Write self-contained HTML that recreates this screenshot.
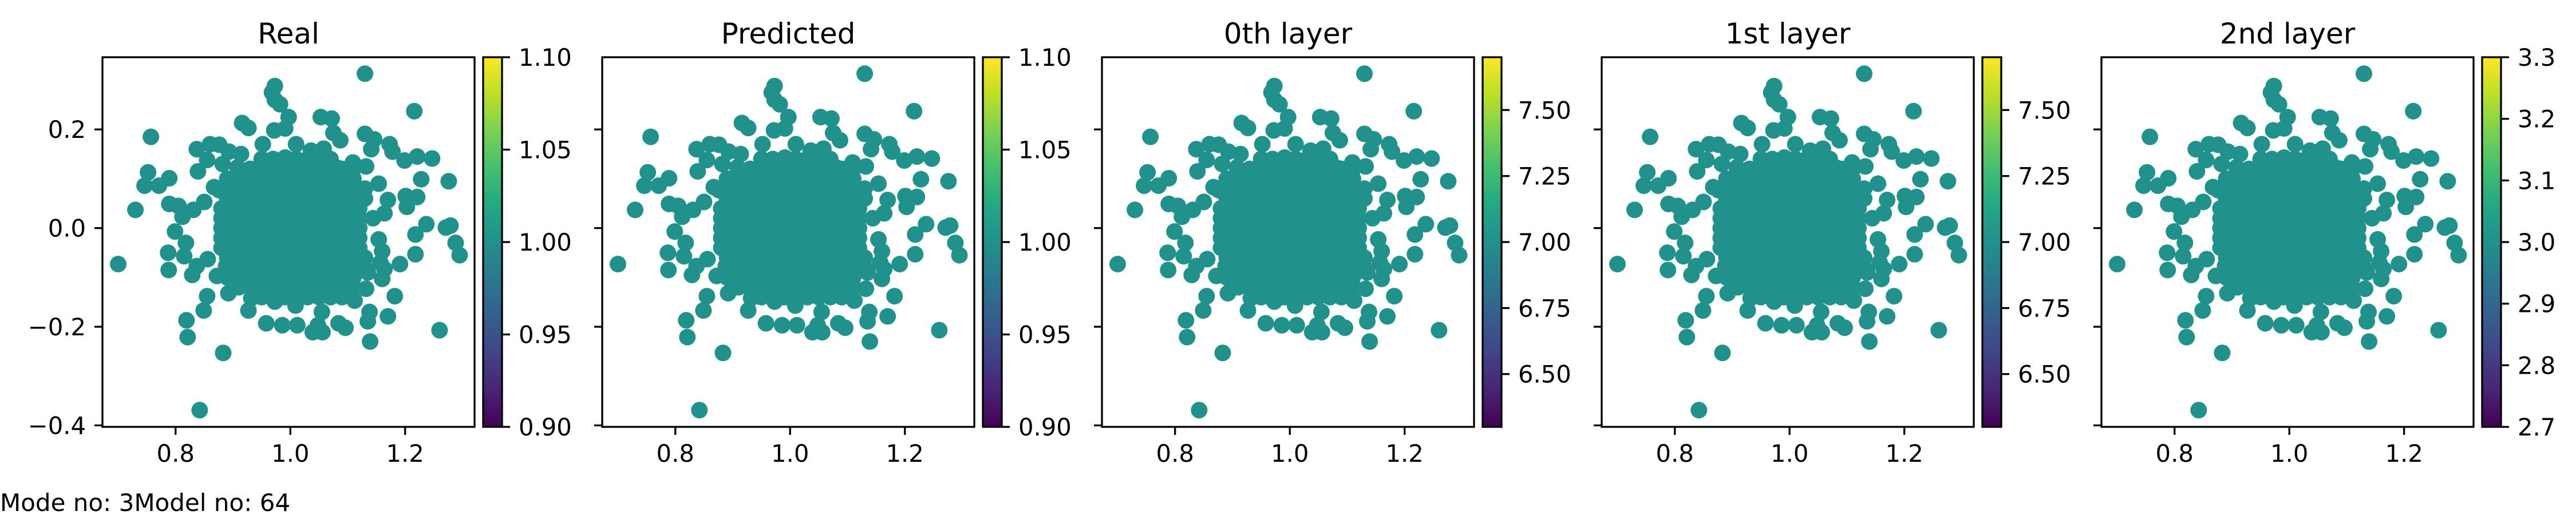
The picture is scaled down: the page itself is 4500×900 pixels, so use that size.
<!DOCTYPE html>
<html><head><meta charset="utf-8">
<style>
html,body{margin:0;padding:0;background:#fff;}
svg{display:block;font-family:"DejaVu Sans","Liberation Sans",sans-serif;}
</style></head>
<body>
<svg id="fig" width="4500" height="900" viewBox="0 0 4500 900" xmlns="http://www.w3.org/2000/svg">
<defs>
<linearGradient id="viridis" x1="0" y1="1" x2="0" y2="0">
<stop offset="0" stop-color="#440154"/><stop offset="0.1" stop-color="#482475"/>
<stop offset="0.2" stop-color="#414487"/><stop offset="0.3" stop-color="#355f8d"/>
<stop offset="0.4" stop-color="#2a788e"/><stop offset="0.5" stop-color="#21918c"/>
<stop offset="0.6" stop-color="#22a884"/><stop offset="0.7" stop-color="#44bf70"/>
<stop offset="0.8" stop-color="#7ad151"/><stop offset="0.9" stop-color="#bddf26"/>
<stop offset="1" stop-color="#fde725"/>
</linearGradient>
</defs>
<text x="0" y="893" font-size="42">Mode no: 3Model no: 64</text>
</svg>
<script>
const panelTitles = ["Real","Predicted","0th layer","1st layer","2nd layer"];
const cbarMin = [0.9,0.9,6.3,6.3,2.7];
const cbarMax = [1.1,1.1,7.7,7.7,3.3];
const cbarTicks = [[0.9,0.95,1.0,1.05,1.1],[0.9,0.95,1.0,1.05,1.1],[6.5,6.75,7.0,7.25,7.5],[6.5,6.75,7.0,7.25,7.5],[2.7,2.8,2.9,3.0,3.1,3.2,3.3]];
const cbarTickLabels = [["0.90","0.95","1.00","1.05","1.10"],["0.90","0.95","1.00","1.05","1.10"],["6.50","6.75","7.00","7.25","7.50"],["6.50","6.75","7.00","7.25","7.50"],["2.7","2.8","2.9","3.0","3.1","3.2","3.3"]];
const xTicks = [0.8,1.0,1.2];
const xTickLabels = ["0.8","1.0","1.2"];
const yTicks = [0.2,0.0,-0.2,-0.4];
const yTickLabels = ["0.2","0.0","\u22120.2","\u22120.4"];
const outerX = [1.130,0.973,0.968,0.973,0.982,0.997,1.216,1.053,1.072,0.916,0.927,0.972,0.991,1.075,1.087,1.130,1.146,0.757,0.837,0.860,0.876,0.893,0.855,0.882,0.839,0.752,0.746,0.771,0.789,0.730,0.789,0.805,0.867,0.700,0.787,0.788,0.829,0.872,0.855,0.849,0.819,0.821,0.883,0.842,0.927,0.932,0.892,0.973,0.958,0.986,1.012,1.039,1.056,1.096,1.084,1.138,1.135,1.139,1.170,1.182,1.112,1.191,1.218,1.218,1.237,1.271,1.279,1.288,1.295,1.260,1.203,1.201,1.221,1.228,1.276,1.199,1.221,1.247,1.173,1.178,1.141,1.109,1.132,1.154,1.170,1.164,1.144,1.154,1.160,1.160,1.164,1.157,1.009,1.030,1.055,1.087,1.048,1.132,1.135,1.119,0.952,0.991,0.914,0.908,0.876,0.850,0.831,0.812,0.799,0.818,0.815,0.837,0.856,0.888,0.908,0.940,0.965,1.010,1.036,1.058,1.080,1.106];
const outerY = [0.313,0.288,0.275,0.260,0.251,0.225,0.237,0.225,0.222,0.213,0.203,0.198,0.202,0.193,0.178,0.191,0.180,0.185,0.160,0.170,0.169,0.155,0.138,0.130,0.115,0.113,0.086,0.086,0.101,0.037,0.049,0.045,0.083,-0.073,-0.050,-0.085,-0.095,-0.097,-0.138,-0.167,-0.187,-0.221,-0.253,-0.369,-0.167,-0.142,-0.132,-0.149,-0.193,-0.197,-0.197,-0.211,-0.211,-0.202,-0.193,-0.170,-0.189,-0.230,-0.179,-0.138,-0.147,-0.073,-0.053,-0.013,0.008,0.001,0.005,-0.030,-0.055,-0.207,0.043,0.065,0.063,0.099,0.095,0.137,0.145,0.141,0.170,0.155,0.160,0.133,0.125,0.090,0.057,0.030,0.020,-0.023,-0.047,-0.103,-0.083,-0.070,-0.157,-0.137,-0.170,-0.137,-0.197,-0.123,-0.090,-0.070,0.170,0.143,0.150,0.123,0.077,0.053,0.037,0.023,-0.007,-0.030,-0.057,-0.077,-0.063,-0.077,-0.103,-0.117,-0.123,0.170,0.157,0.161,0.123,0.103];
const coreRowY = [0.14,0.12,0.10,0.08,0.06,0.04,0.02,0.0,-0.02,-0.04,-0.06,-0.08,-0.10,-0.12,-0.14];
const coreRowX = [
 [0.95,0.97,0.99,1.01,1.03,1.05,1.07],
 [0.91,0.93,0.95,0.97,0.99,1.01,1.03,1.05,1.07,1.09,1.11],
 [0.89,0.91,0.93,0.95,0.97,0.99,1.01,1.03,1.05,1.07,1.09,1.11],
 [0.89,0.91,0.93,0.95,0.97,0.99,1.01,1.03,1.05,1.07,1.09,1.11,1.13],
 [0.89,0.91,0.93,0.95,0.97,0.99,1.01,1.03,1.05,1.07,1.09,1.11,1.13],
 [0.88,0.90,0.92,0.94,0.96,0.98,1.00,1.02,1.04,1.06,1.08,1.10,1.12],
 [0.88,0.90,0.92,0.94,0.96,0.98,1.00,1.02,1.04,1.06,1.08,1.10,1.12],
 [0.88,0.90,0.92,0.94,0.96,0.98,1.00,1.02,1.04,1.06,1.08,1.10,1.12],
 [0.88,0.90,0.92,0.94,0.96,0.98,1.00,1.02,1.04,1.06,1.08,1.10,1.12],
 [0.88,0.90,0.92,0.94,0.96,0.98,1.00,1.02,1.04,1.06,1.08,1.10,1.12],
 [0.89,0.91,0.93,0.95,0.97,0.99,1.01,1.03,1.05,1.07,1.09,1.11,1.13],
 [0.89,0.91,0.93,0.95,0.97,0.99,1.01,1.03,1.05,1.07,1.09,1.11,1.13],
 [0.89,0.91,0.93,0.95,0.97,0.99,1.01,1.03,1.05,1.07,1.09,1.11],
 [0.91,0.93,0.95,0.97,0.99,1.01,1.03,1.05,1.07,1.09,1.11],
 [0.95,0.97,0.99,1.01,1.03,1.05,1.07,1.09]
];
const pointValue = 1.0;

const NS = "http://www.w3.org/2000/svg";
const svg = document.getElementById("fig");
const XMIN=0.6726, XMAX=1.3210, YMIN=-0.403, YMAX=0.3464;
const AX_W=650, AX_H=646, AX_TOP=100, AX_LEFT0=179, PANEL_DX=873;
function mk(tag, attrs, parent){const e=document.createElementNS(NS,tag);for(const k in attrs)e.setAttribute(k,attrs[k]);(parent||svg).appendChild(e);return e;}
function viridis(t){const st=["#440154","#482475","#414487","#355f8d","#2a788e","#21918c","#22a884","#44bf70","#7ad151","#bddf26","#fde725"];const i=Math.max(0,Math.min(10,Math.round(t*10)));return st[i];}

panelTitles.forEach((title,p)=>{
  const L = AX_LEFT0 + p*PANEL_DX;
  const sx = v => L + (v-XMIN)/(XMAX-XMIN)*AX_W;
  const sy = v => AX_TOP + (YMAX-v)/(YMAX-YMIN)*AX_H;
  const g = mk("g",{});
  
  
  const t = mk("text",{x:L+AX_W/2,y:76,"font-size":50,"text-anchor":"middle"},g);
  t.textContent = title;
  
  
  const clipId = "clip"+p;
  const cp = mk("clipPath",{id:clipId},g);
  mk("rect",{x:L,y:AX_TOP,width:AX_W,height:AX_H},cp);
  const pts = mk("g",{"clip-path":"url(#"+clipId+")",fill:viridis((pointValue*(cbarMin[p]+cbarMax[p])/2-cbarMin[p])/(cbarMax[p]-cbarMin[p]))},g);
  
  
  const drawPt=(x,y)=>{const c=mk("circle",{cx:sx(x),cy:sy(y),r:14.5},pts);
    
    };
  coreRowY.forEach((y,i)=>coreRowX[i].forEach(x=>drawPt(x,y)));
  outerX.forEach((x,i)=>drawPt(x,outerY[i]));
  const frame = mk("rect",{x:L,y:AX_TOP,width:AX_W,height:AX_H,fill:"none",stroke:"#000","stroke-width":3.3},g);
  
  
  xTicks.forEach((v,i)=>{
    mk("line",{x1:sx(v),x2:sx(v),y1:AX_TOP+AX_H,y2:AX_TOP+AX_H+14,stroke:"#000","stroke-width":3.3},g);
    const tl = mk("text",{x:sx(v),y:807,"font-size":41.7,"text-anchor":"middle"},g);
    tl.textContent = xTickLabels[i];
    
    
  });
  yTicks.forEach((v,i)=>{
    mk("line",{x1:L-14,x2:L,y1:sy(v),y2:sy(v),stroke:"#000","stroke-width":3.3},g);
    if(p===0){
      const tl = mk("text",{x:L-29,y:sy(v)+15,"font-size":41.7,"text-anchor":"end"},g);
      tl.textContent = yTickLabels[i];
      
      
    }
  });
  const CB = L + 665;
  const cb = mk("rect",{x:CB,y:AX_TOP,width:33,height:AX_H,fill:"url(#viridis)",stroke:"#000","stroke-width":3.3},g);
  
  
  const cy = v => AX_TOP + (cbarMax[p]-v)/(cbarMax[p]-cbarMin[p])*AX_H;
  cbarTicks[p].forEach((v,i)=>{
    mk("line",{x1:CB+33,x2:CB+47,y1:cy(v),y2:cy(v),stroke:"#000","stroke-width":3.3},g);
    const tl = mk("text",{x:CB+62,y:cy(v)+15,"font-size":41.7},g);
    tl.textContent = cbarTickLabels[p][i];
    
    
  });
});
</script>
</body></html>
